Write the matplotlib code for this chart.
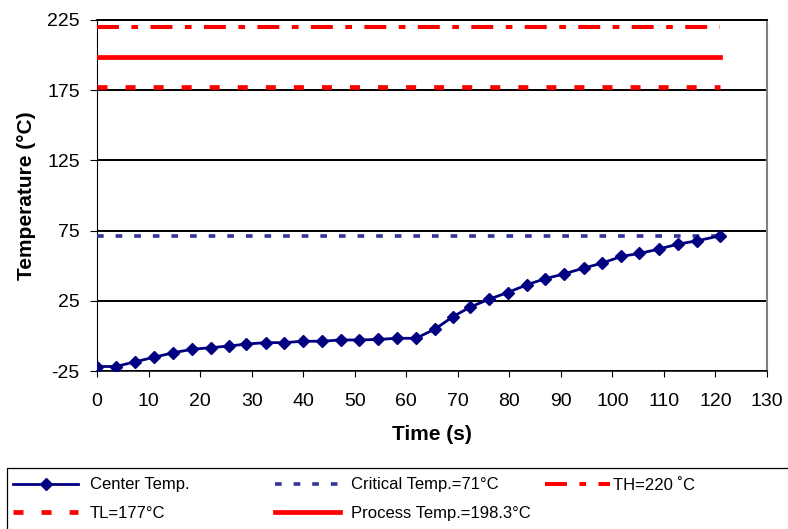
import matplotlib
matplotlib.use("Agg")
import matplotlib.pyplot as plt
from matplotlib.patches import Rectangle

plt.rcParams['font.family'] = ['Liberation Sans', 'DejaVu Sans']
plt.rcParams['lines.scale_dashes'] = False
plt.rcParams['axes.unicode_minus'] = False

# ---- data ----
time_s = [0, 3.7, 7.4, 11.1, 14.8, 18.5, 22.1, 25.6, 29.0, 32.7, 36.3, 39.9,
          43.6, 47.3, 50.9, 54.6, 58.2, 61.9, 65.6, 69.1, 72.4, 76.1, 79.7,
          83.4, 86.9, 90.7, 94.4, 98.0, 101.7, 105.2, 109.0, 112.7, 116.4, 120.9]
center_temp = [-21.8, -21.8, -18.4, -15.2, -12.0, -9.5, -8.4, -7.2, -5.8, -4.8,
               -4.8, -3.8, -3.8, -2.9, -2.9, -2.5, -1.7, -1.7, 4.9, 13.8, 20.5,
               26.2, 30.9, 36.4, 40.7, 44.2, 48.3, 51.8, 56.6, 58.7, 61.8, 65.4,
               67.7, 71.3]
critical_temp = 71
th_temp = 220
tl_temp = 177
process_temp = 198.3

labels = ["Center Temp.", "Critical Temp.=71\u00b0C", "TH=220 \u02daC",
          "TL=177\u00b0C", "Process Temp.=198.3\u00b0C"]
xticks = list(range(0, 131, 10))
yticks = [-25, 25, 75, 125, 175, 225]

W, H = 788, 529
fig = plt.figure(figsize=(W / 100, H / 100), dpi=100)
ax = fig.add_axes([97 / W, 1 - 371 / H, (767 - 97) / W, (371 - 20) / H])

span = [time_s[0], time_s[-1]]
h_center, = ax.plot(time_s, center_temp, color='#000080', lw=2, marker='D',
                    ms=6.3, mfc='#000080', mec='#000080', zorder=5)
h_crit, = ax.plot(span, [critical_temp] * 2, color='#333399', lw=2.6,
                  linestyle=(0, (4.8, 8.6)), zorder=4)
h_th, = ax.plot(span, [th_temp] * 2, color='#ff0000', lw=2.9,
                linestyle=(0, (15.8, 9, 4.8, 8.9)), zorder=4)
h_tl, = ax.plot(span, [tl_temp] * 2, color='#ff0000', lw=3.4,
                linestyle=(0, (7.2, 13)), zorder=4)
h_proc, = ax.plot(span, [process_temp] * 2, color='#ff0000', lw=3.4, zorder=4)

ax.set_xlim(0, 130)
ax.set_ylim(-25, 225)
ax.set_xticks(xticks)
ax.set_yticks(yticks)
ax.tick_params(axis='y', direction='out', length=5, width=0.8, pad=7.5,
               labelsize=14)
ax.tick_params(axis='x', direction='out', length=4, width=0.8, pad=11.5,
               labelsize=14)
ax.set_axisbelow(True)
ax.yaxis.grid(True, color='black', lw=1.4)
ax.xaxis.grid(False)
for s in ['left', 'bottom', 'top']:
    ax.spines[s].set_color('black')
ax.spines['left'].set_linewidth(0.8)
ax.spines['bottom'].set_linewidth(1.1)
ax.spines['top'].set_linewidth(1.4)
ax.spines['right'].set_color('#808080')
ax.spines['right'].set_linewidth(1.5)

ax.set_xlabel("Time (s)", fontsize=15, fontweight='bold', labelpad=11)
ax.set_ylabel("Temperature (\u00b0C)", fontsize=15, fontweight='bold',
              labelpad=8)

# legend box
fig.add_artist(Rectangle((7.3 / W, -0.1), 1.2, 0.1 + (1 - 468.3 / H),
                         transform=fig.transFigure, fill=False,
                         edgecolor='black', lw=0.9))

common = dict(frameon=False, loc='upper left', borderpad=0, borderaxespad=0,
              fontsize=12, handlelength=3.9, labelspacing=0.83, numpoints=1)
top = 1 - 477.5 / H
leg1 = fig.legend([h_center, h_tl], [labels[0], labels[3]],
                  bbox_to_anchor=(13 / W, top), handletextpad=0.72, **common)
leg2 = fig.legend([h_crit, h_proc], [labels[1], labels[4]],
                  bbox_to_anchor=(275 / W, top), handletextpad=0.66, **common)
leg3 = fig.legend([h_th], [labels[2]],
                  bbox_to_anchor=(545 / W, top), handletextpad=0.18, **common)

fig.savefig("out.png", dpi=100)
